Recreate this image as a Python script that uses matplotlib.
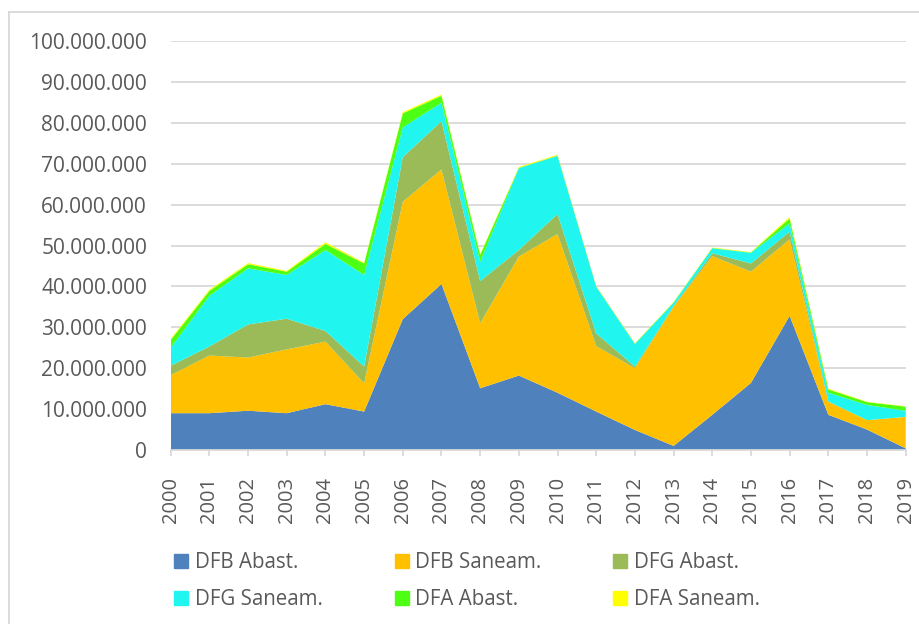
import matplotlib
matplotlib.use("Agg")
import matplotlib.pyplot as plt
from matplotlib.lines import Line2D
from matplotlib.ticker import FuncFormatter, MultipleLocator

plt.rcParams['font.family'] = ['Open Sans', 'DejaVu Sans']

years = list(range(2000, 2020))
year_labels = [str(y) for y in years]

# values in millions
dfb_abast = [9.0, 9.0, 9.6, 9.0, 11.2, 9.4, 32.0, 40.6, 15.1, 18.2,
             14.0, 9.4, 4.9, 1.0, 8.6, 16.4, 32.8, 8.6, 5.0, 0.4]
dfb_saneam = [9.3, 14.1, 13.0, 15.6, 15.3, 6.9, 28.7, 28.0, 15.9, 29.1,
              38.8, 16.0, 15.1, 34.0, 38.8, 27.2, 18.7, 3.2, 2.3, 7.7]
dfg_abast = [2.3, 2.2, 8.1, 7.5, 2.6, 4.1, 10.9, 11.8, 10.3, 1.6,
             4.9, 3.1, 0.4, 0.2, 0.7, 2.0, 1.9, 0.1, 0.0, 0.0]
dfg_saneam = [4.4, 12.4, 13.7, 10.7, 19.8, 22.4, 7.3, 4.5, 4.7, 20.0,
              14.2, 11.4, 5.5, 0.8, 1.2, 2.6, 2.0, 2.1, 3.7, 1.5]
dfa_abast = [1.9, 1.2, 1.0, 0.8, 1.5, 2.8, 3.4, 1.7, 1.7, 0.1,
             0.1, 0.1, 0.1, 0.1, 0.1, 0.1, 1.2, 0.8, 0.7, 1.0]
dfa_saneam = [0.3, 0.3, 0.3, 0.2, 0.4, 0.2, 0.3, 0.3, 0.2, 0.2,
              0.2, 0.1, 0.1, 0.1, 0.1, 0.1, 0.4, 0.2, 0.1, 0.1]

series_names = ["DFB Abast.", "DFB Saneam.", "DFG Abast.",
                "DFG Saneam.", "DFA Abast.", "DFA Saneam."]
colors = ["#4F81BD", "#FFC000", "#9BBB59", "#20F5EF", "#4DFF14", "#FFFF00"]

series = [dfb_abast, dfb_saneam, dfg_abast, dfg_saneam, dfa_abast, dfa_saneam]
series = [[v * 1e6 for v in s] for s in series]

text_color = "#595959"
grid_color = "#D9D9D9"

fig = plt.figure(figsize=(9.2, 6.24), dpi=100)
ax = fig.add_axes([170.7 / 920, 1 - 450 / 624, (905.7 - 170.7) / 920, (450 - 41) / 624])

ax.stackplot(years, *series, colors=colors, labels=series_names, linewidth=0)

ax.set_xlim(years[0], years[-1])
ax.set_ylim(0, 100e6)
ax.yaxis.set_major_locator(MultipleLocator(10e6))
ax.yaxis.set_major_formatter(FuncFormatter(lambda v, p: f"{int(round(v)):,}".replace(",", ".")))
ax.set_xticks(years)
ax.set_xticklabels(year_labels, rotation=90)

ax.grid(axis="y", color=grid_color, linewidth=1.3)
ax.set_axisbelow(True)
for side in ["left", "right", "top"]:
    ax.spines[side].set_visible(False)
ax.spines["bottom"].set_color(grid_color)
ax.spines["bottom"].set_linewidth(1.3)
ax.spines["bottom"].set_zorder(5)

ax.tick_params(axis="y", length=0, pad=17, labelsize=15, labelcolor=text_color)
ax.tick_params(axis="x", length=4.5, width=1.3, color=grid_color, pad=15,
               labelsize=14.5, labelcolor=text_color)

# legend is filled row by row in the reference; matplotlib fills by column
order = [0, 3, 1, 4, 2, 5]
handles = [Line2D([], [], marker="s", linestyle="none", markersize=10.5,
                  markerfacecolor=colors[i], markeredgecolor=colors[i]) for i in order]
labels = [series_names[i] for i in order]
fig.legend(handles, labels, ncol=3, loc="upper left",
           bbox_to_anchor=(174 / 920, 1 - 552 / 624), frameon=False,
           fontsize=14.8, labelcolor=text_color, handlelength=0.7,
           handletextpad=0.3, columnspacing=3.5, labelspacing=0.8,
           borderpad=0, borderaxespad=0)

# outer chart frame (left and top edges visible)
fig.add_artist(Line2D([8.5 / 920, 8.5 / 920], [0, 1 - 12 / 624], color=grid_color,
                      linewidth=1.3, transform=fig.transFigure))
fig.add_artist(Line2D([8.5 / 920, 1], [1 - 12 / 624, 1 - 12 / 624], color=grid_color,
                      linewidth=1.3, transform=fig.transFigure))

fig.savefig("out.png", dpi=100)
